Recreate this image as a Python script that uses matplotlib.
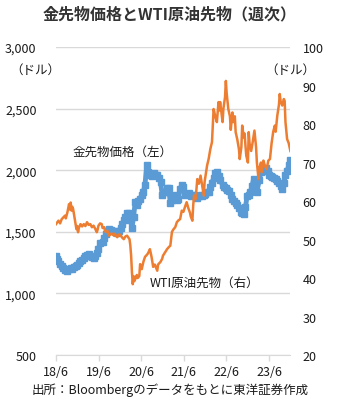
import numpy as np
import pandas as pd
import matplotlib
matplotlib.use('Agg')
import matplotlib.pyplot as plt
from matplotlib.ticker import FuncFormatter

plt.rcParams['font.family'] = ['Noto Sans CJK JP', 'DejaVu Sans']

START = pd.Timestamp('2018-06-01')

# weeks since 2018-06-01
gold_weeks = [0, 1, 3, 5, 7, 9, 11, 14, 16, 18, 20, 22, 24, 26, 28, 30, 32, 34, 36, 38,
              40, 42, 44, 46, 48, 50, 52, 54, 57, 59, 61, 63, 65, 67, 69, 71, 73, 75, 77, 79,
              81, 83, 85, 87, 89, 91, 93, 95, 97, 99, 101, 103, 105, 107, 109, 111, 113, 115, 118, 120,
              122, 124, 126, 128, 130, 132, 134, 136, 138, 140, 142, 144, 146, 148, 150, 152, 154, 156, 158, 160,
              163, 165, 167, 169, 171, 173, 175, 177, 179, 181, 183, 185, 187, 189, 191, 193, 195, 197, 199, 201,
              204, 206, 208, 210, 212, 214, 216, 218, 220, 222, 224, 226, 228, 230, 232, 234, 236, 238, 240, 242,
              244, 246, 249, 251, 253, 255, 257, 259, 261, 263, 265, 267, 269, 271, 273, 275, 277, 279, 281, 283,
              285, 287]
gold_price = [1301, 1280, 1260, 1240, 1220, 1205, 1192, 1185, 1195, 1206, 1200, 1212, 1220, 1232, 1245, 1260, 1275, 1290, 1301, 1310,
              1320, 1301, 1295, 1287, 1300, 1328, 1360, 1409, 1420, 1449, 1480, 1503, 1520, 1517, 1505, 1503, 1495, 1490, 1510, 1530,
              1560, 1597, 1620, 1652, 1650, 1600, 1530, 1620, 1746, 1720, 1750, 1770, 1800, 1827, 1881, 2043, 1989, 1962, 1950, 1976,
              1960, 1962, 1935, 1908, 1800, 1820, 1827, 1854, 1854, 1733, 1760, 1800, 1780, 1760, 1770, 1850, 1881, 1860, 1800, 1810,
              1814, 1790, 1800, 1800, 1785, 1773, 1790, 1800, 1790, 1800, 1810, 1820, 1827, 1860, 1900, 1935, 1980, 1989, 1950, 1921,
              1880, 1860, 1854, 1840, 1830, 1800, 1770, 1750, 1730, 1715, 1690, 1665, 1655, 1645, 1700, 1790, 1800, 1820, 1870, 1930,
              1880, 1827, 1920, 1989, 1990, 2010, 2016, 1990, 1962, 1950, 1945, 1935, 1925, 1910, 1895, 1870, 1845, 1900, 1960, 1990,
              2040, 2080]

wti_weeks = [0, 3, 5, 7, 11, 12, 14, 16, 17, 18, 19, 20, 21, 23, 25, 26, 27, 28, 30, 32,
             34, 36, 38, 40, 42, 44, 46, 48, 50, 51, 52, 54, 56, 57, 59, 60, 61, 63, 65, 68,
             71, 72, 75, 77, 79, 81, 83, 85, 87, 89, 90, 91, 92, 93, 94, 95, 96, 97, 99, 100,
             102, 103, 105, 107, 109, 112, 114, 115, 117, 119, 121, 124, 125, 128, 130, 131, 133, 136, 138, 140,
             142, 144, 146, 148, 150, 152, 154, 156, 158, 160, 162, 164, 165, 167, 168, 169, 171, 173, 175, 177,
             179, 181, 182, 185, 187, 189, 191, 193, 195, 197, 199, 200, 201, 204, 205, 207, 208, 209, 210, 211,
             213, 214, 216, 217, 219, 220, 222, 224, 225, 227, 228, 230, 231, 232, 233, 235, 236, 237, 239, 241,
             243, 245, 246, 248, 249, 251, 252, 254, 256, 258, 260, 262, 264, 266, 268, 269, 271, 273, 274, 275,
             277, 279, 280, 281, 283, 285, 287]
wti_price = [54.0, 54.9, 54.2, 55.3, 56.2, 55.5, 57.1, 59.2, 57.8, 59.6, 57.5, 58.5, 57.9, 55.3, 52.7, 53.5, 51.9, 53.0, 54.0, 53.4,
             54.0, 53.5, 54.5, 53.8, 54.0, 53.2, 53.6, 52.8, 51.9, 52.6, 53.6, 54.2, 54.0, 53.0, 53.2, 52.4, 51.9, 52.3, 51.0, 51.6,
             51.0, 51.5, 50.6, 51.3, 51.2, 50.5, 50.1, 50.8, 51.0, 50.4, 50.1, 48.5, 45.8, 41.5, 38.4, 40.5, 39.2, 39.7, 40.8, 40.0,
             40.5, 43.6, 42.3, 44.2, 45.5, 46.2, 47.0, 47.5, 45.5, 42.9, 43.5, 41.9, 43.5, 44.2, 45.0, 45.8, 46.5, 47.5, 48.0, 48.4,
             52.0, 52.7, 53.2, 54.5, 55.0, 55.3, 57.5, 57.2, 58.5, 59.7, 58.2, 57.0, 56.0, 54.9, 58.8, 61.4, 60.5, 65.7, 64.5, 66.6,
             64.0, 61.4, 65.0, 69.2, 71.0, 73.5, 75.3, 83.9, 82.0, 80.5, 85.7, 83.5, 85.7, 80.5, 84.0, 87.0, 91.2, 88.0, 86.0, 83.9,
             82.0, 78.5, 83.0, 80.5, 82.0, 77.9, 76.0, 73.5, 70.9, 74.0, 79.6, 76.5, 77.5, 74.4, 71.8, 70.0, 77.9, 75.0, 73.0, 75.5,
             78.3, 74.0, 70.0, 65.7, 68.5, 70.0, 67.5, 70.5, 69.0, 68.3, 70.5, 70.9, 75.0, 78.0, 79.6, 78.0, 82.2, 85.0, 87.8, 86.0,
             84.8, 86.5, 86.0, 80.5, 76.1, 75.0, 73.0]

tick_years = [2018, 2019, 2020, 2021, 2022, 2023]
left_ticks = [500, 1000, 1500, 2000, 2500, 3000]
right_ticks = [20, 30, 40, 50, 60, 70, 80, 90, 100]

BLUE = '#5B9BD5'
ORANGE = '#ED7D31'
GRID = '#D9D9D9'
TEXT = '#1a1a1a'

gold_dates = START + pd.to_timedelta(np.array(gold_weeks) * 7, unit='D')
wti_dates = START + pd.to_timedelta(np.array(wti_weeks) * 7, unit='D')

fig = plt.figure(figsize=(3.4, 4.14), dpi=100)
ax = fig.add_axes([0.1647, 0.140, 0.853 - 0.1647, 0.884 - 0.140])
ax2 = ax.twinx()

ax.plot(gold_dates, gold_price, color=BLUE, lw=3.5, marker='s', ms=4, mec=BLUE, mfc=BLUE)
ax2.plot(wti_dates, wti_price, color=ORANGE, lw=1.8)

ax.set_ylim(500, 3000)
ax2.set_ylim(20, 100)
ax.set_yticks(left_ticks)
ax2.set_yticks(right_ticks)
ax.yaxis.set_major_formatter(FuncFormatter(lambda v, p: f'{int(v):,}'))
ax.grid(axis='y', color=GRID, lw=1)
ax.set_axisbelow(True)

xt = [pd.Timestamp(f'{y}-06-01') for y in tick_years]
ax.set_xticks(xt)
ax.set_xticklabels([f'{y % 100}/6' for y in tick_years])
ax.set_xlim(START, pd.Timestamp('2023-11-28'))

for a in (ax, ax2):
    for s in ('top', 'left', 'right', 'bottom'):
        a.spines[s].set_visible(False)
ax.spines['bottom'].set_visible(True)
ax.spines['bottom'].set_color(GRID)
ax.tick_params(axis='x', colors=GRID, length=4, width=1, labelcolor=TEXT, labelsize=9, pad=3)
ax.tick_params(axis='y', length=0, labelsize=9, pad=14, labelcolor=TEXT)
ax2.tick_params(axis='y', length=0, labelsize=9, pad=9, labelcolor=TEXT)

fig.text(0.5, 0.966, '金先物価格とWTI原油先物（週次）', ha='center', va='center',
         fontsize=11.5, fontweight='bold', color='#333333')
fig.text(0.105, 0.830, '（ドル）', ha='center', va='center', fontsize=9, color=TEXT)
fig.text(0.855, 0.830, '（ドル）', ha='center', va='center', fontsize=9, color=TEXT)
fig.text(0.36, 0.633, '金先物価格（左）', ha='center', va='center', fontsize=9, color=TEXT)
fig.text(0.60, 0.317, 'WTI原油先物（右）', ha='center', va='center', fontsize=9, color=TEXT)
fig.text(0.5, 0.058, '出所：Bloombergのデータをもとに東洋証券作成', ha='center', va='center',
         fontsize=9, color=TEXT)

fig.savefig('out.png', dpi=100)
